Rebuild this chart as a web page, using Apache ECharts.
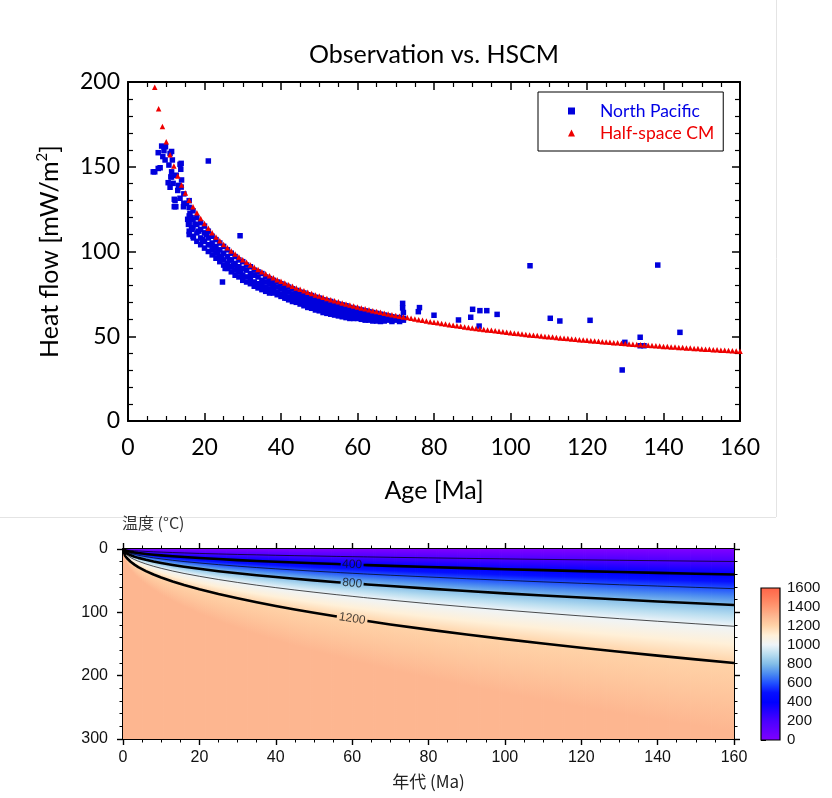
<!DOCTYPE html>
<html><head><meta charset="utf-8">
<script src="https://cdn.jsdelivr.net/npm/echarts@6.0.0/dist/echarts.min.js"></script>
<style>html,body{margin:0;padding:0;background:#fff}#c{width:832px;height:798px}</style>
</head><body><div id="c"></div>
<script>
// ---------------- DATA ----------------
// Half-space cooling model: one sample per Ma, starting at 7 Ma
const modelStartAge = 7;
const modelHeatFlow = [
196.9,184.2,173.7,164.8,157.1,150.4,144.5,139.2,134.5,130.3,
126.4,122.8,119.5,116.5,113.7,111.1,108.6,106.3,104.2,102.2,
100.3,98.5,96.7,95.1,93.6,92.1,90.7,89.4,88.1,86.8,
85.7,84.5,83.4,82.4,81.4,80.4,79.5,78.5,77.7,76.8,
76.0,75.2,74.4,73.7,73.0,72.2,71.6,70.9,70.3,69.6,
69.0,68.4,67.8,67.3,66.7,66.2,65.6,65.1,64.6,64.1,
63.6,63.2,62.7,62.3,61.8,61.4,61.0,60.6,60.2,59.8,
59.4,59.0,58.6,58.2,57.9,57.5,57.2,56.8,56.5,56.2,
55.9,55.5,55.2,54.9,54.6,54.3,54.0,53.7,53.5,53.2,
52.9,52.6,52.4,52.1,51.8,51.6,51.3,51.1,50.8,50.6,
50.4,50.1,49.9,49.7,49.5,49.2,49.0,48.8,48.6,48.4,
48.2,48.0,47.8,47.6,47.4,47.2,47.0,46.8,46.6,46.4,
46.2,46.1,45.9,45.7,45.5,45.3,45.2,45.0,44.8,44.7,
44.5,44.4,44.2,44.0,43.9,43.7,43.6,43.4,43.3,43.1,
43.0,42.8,42.7,42.5,42.4,42.3,42.1,42.0,41.8,41.7,
41.6,41.4,41.3,41.2];

// North Pacific observations [age Ma, heat flow mW/m2]
const northPacific = [
[6.6,147],[7.0,147],[7.9,149],[8.4,149.4],[7.9,158.3],[8.8,162.2],[9.4,159.5],[9.8,161.8],[9.1,156],[9.7,154],
[11.0,157.9],[11.4,159],[11.6,154],[10.7,151],[11.4,147],[11.4,144],[11.2,144],[10.5,140.6],[11.8,140.2],[11.0,137.9],
[13.6,151.4],[13.9,152],[13.8,148.5],[14.0,142.2],[13.9,138],[12.6,145],[13.2,139],[12.1,130.8],[13.6,131.4],[12.3,130],
[12.1,126.4],[12.5,126.4],[14.5,126.4],[14.6,128.4],[15.3,128.4],[16.0,130],[14.6,134],[13.0,136],[16.2,122.5],[15.6,119],
[15.8,116],[16.0,110],[16.6,113],[17.1,108],[21.0,153.4],
[16,126],[16,121],[16,117],[16,112],
[17,124],[17,119],[17,114],[17,109],
[18,120],[18,116],[18,111],[18,106],
[19,117],[19,113],[19,108],[19,104],
[20,115],[20,111],[20,106],[20,102],
[21,112],[21,108],[21,104],[21,100],
[22,109],[22,105],[22,101],[22,98],
[23,107],[23,103],[23,99],[23,96],
[24,105],[24,101],[24,97],[24,94],
[25,103],[25,99],[25,95],[25,92],
[26,101],[26,97],[26,93],[26,90],
[16.5,120],[17.5,116],[18.5,112],[19.5,107],[20.5,110],[21.5,104],[22.5,102],[23.5,100],[24.5,97],[26.5,95],[27.5,92],[28.5,90],[29.5,88],
[24.7,82],[25.4,90],[29.3,109.3],
[27,99],[27,95],[27,91],[27,88],
[28,97],[28,93],[28,89],[28,86],
[29,95],[29,91],[29,88],[29,85],
[30,94],[30,90],[30,86],[30,83],
[31,92],[31,89],[31,85],[31,82],
[32,91],[32,87],[32,84],[32,81],
[33,89],[33,86],[33,82],[33,79.5],
[34,88],[34,85],[34,81],[34,78.5],
[35,87],[35,83],[35,80],[35,77.5],
[36,85],[36,82],[36,79],[36,76.5],
[37,84],[37,81],[37,78],[37,75.5],
[38,83],[38,80],[38,77],[38,75.5],
[39,82],[39,79],[39,76],[39,74.5],
[40,81],[40,78],[40,75],[40,73.5],
[41,80],[41,77],[41,74],[41,72.5],
[42,79],[42,76],[42,73],[42,71.5],
[43,78],[43,75],[43,72.5],[43,70.5],
[44,77],[44,74.5],[44,72],[44,70],
[45,76],[45,73.5],[45,71],[45,69],
[46,75.5],[46,73],[46,70.5],[46,68],
[47,74.5],[47,72],[47,69.5],[47,67],
[48,74],[48,71],[48,68.5],[48,66.5],
[49,73],[49,70.5],[49,68],[49,65.5],
[50,72.5],[50,70],[50,67.5],[50,65],
[51,71.5],[51,69],[51,67],[51,64],
[52,71],[52,68.5],[52,66],[52,63.5],
[53,70.5],[53,68],[53,65.5],[53,63],
[54,69.5],[54,67],[54,65],[54,62.5],
[55,69],[55,66.5],[55,64.5],[55,62],
[56,68.5],[56,66],[56,64],[56,61.5],
[57,68],[57,65.5],[57,63.5],[57,61],
[58,67],[58,65],[58,63],[58,60.5],
[59,66.5],[59,64.5],[59,62.5],[59,60.5],
[60,66],[60,64],[60,62],[60,60.5],
[61,65.5],[61,63.5],[61,61.5],[61,60],
[62,65],[62,63],[62,61],[62,59.5],
[63,64.5],[63,62.5],[63,61],[63,59.5],
[64,64],[64,62],[64,60.5],[64,59],
[65,63.5],[65,62],[65,60.5],[65,59],
[66,63],[66,61.5],[66,60],[66,58.7],
[67,62.5],[67,61],[67,60],[67,59],
[68,62],[68,61],[68,59.5],
[69,61.5],[69,60.5],[69,59.5],[69,58.7],
[70,61],[70,60],[70,59.5],
[71,61],[71,60],[71,59.5],[71,58.7],
[72,60.5],[72,59.5],
[35.4,78.3],[41.5,72.4],[48.4,66.5],[52.8,64.5],
[71.8,69.4],[71.8,66.7],[72.0,64],[75.9,64.5],[76.2,66.9],[80.0,62.4],[86.4,59.6],[89.6,61.2],[90.1,65.9],
[92.0,65.1],[93.8,65.1],[91.8,56],[96.5,62.9],[105.1,91.6],[110.4,60.6],[112.9,59],[120.8,59.4],
[129.9,46.4],[129.2,30.1],[133.9,49.4],[133.9,44.4],[134.9,44.4],[138.5,92],[144.3,52.3]
];

// Lower panel: isotherm depths (km) read at these ages (Ma)
const isoAges      = [0,0.5,1,2,3,4,6,8,10,13,16,20,25,30,35,40,45,50,56,57,60,63,64,70,80,90,100,110,120,130,140,150,160];
const isoDepth200  = [0,1.1,1.6,2.2,2.7,3.1,3.8,4.4,4.9,5.6,6.2,7.0,7.8,8.6,9.2,9.9,10.5,11.0,11.7,11.8,12.1,12.4,12.5,13.1,14.0,14.8,15.6,16.4,17.1,17.8,18.5,19.1,19.7];
const isoDepth400  = [0,2.3,3.2,4.5,5.5,6.4,7.8,9.0,10.1,11.5,12.7,14.2,15.9,17.5,18.9,20.2,21.4,22.5,23.8,24.1,24.7,25.3,25.5,26.7,28.5,30.2,31.9,33.4,34.9,36.3,37.7,39.0,40.3];
const isoDepth600  = [0,3.5,4.9,7.0,8.6,9.9,12.1,14.0,15.6,17.8,19.8,22.1,24.7,27.1,29.3,31.3,33.2,35.0,37.0,37.4,38.3,39.3,39.6,41.4,44.2,46.9,49.5,51.9,54.2,56.4,58.5,60.6,62.6];
const isoDepth800  = [0,4.9,7.0,9.9,12.1,14.0,17.1,19.8,22.1,25.2,28.0,31.3,35.0,38.3,41.4,44.2,46.9,49.5,52.4,52.8,54.2,55.5,56.0,58.5,62.6,66.4,70.0,73.4,76.6,79.8,82.8,85.7,88.5];
const isoDepth1000 = [0,6.8,9.6,13.6,16.7,19.3,23.6,27.3,30.5,34.8,38.6,43.1,48.2,52.8,57.1,61.0,64.7,68.2,72.2,72.8,74.7,76.6,77.2,80.7,86.3,91.5,96.5,101.2,105.7,110.0,114.1,118.1,122.0];
const isoDepth1200 = [0,10.1,14.2,20.1,24.7,28.5,34.9,40.3,45.0,51.3,56.9,63.6,71.2,77.9,84.2,90.0,95.5,100.6,106.5,107.4,110.2,112.9,113.8,119.1,127.3,135.0,142.3,149.2,155.9,162.3,168.4,174.3,180.0];
const isoDepth1300 = [0,16.1,22.8,32.2,39.5,45.6,55.9,64.5,72.1,82.2,91.2,102.0,114.0,124.9,134.9,144.2,153.0,161.2,170.6,172.1,176.6,181.0,182.4,190.8,203.9,216.3,228.0,239.1,249.8,260.0,269.8,279.2,288.4];
const isoLevels    = [200,400,600,800,1000,1200,1300];
const contourLevels = [200,400,600,800,1000,1200];       // drawn contour lines
const labelledLevels = [400,800,1200];                    // thick, annotated
const labelGaps = {400:[57,63], 800:[57,63], 1200:[56,64]};
const contourLabelAge = 60;

// Colour scale (°C)
const cptTemps  = [0,200,400,500,600,700,800,900,1000,1100,1200,1300,1400,1500,1600];
const cptColors = ['#8000ff','#4c00ff','#0000ff','#0610ff','#2050ff','#4c8cf0','#82bde8','#b8ddf0','#eef4f8','#fff0d8','#ffd3a8','#fdb690','#ff9872','#ff7c5a','#ff6347'];
const colorbarTicks = [0,200,400,600,800,1000,1200,1400,1600];

// ---------------- HELPERS ----------------
const isoTable = [isoDepth200, isoDepth400, isoDepth600, isoDepth800, isoDepth1000, isoDepth1200, isoDepth1300];
function hex2rgb(h){return [parseInt(h.substr(1,2),16),parseInt(h.substr(3,2),16),parseInt(h.substr(5,2),16)];}
const cptRgb = cptColors.map(hex2rgb);
function palette(T){
  if (T <= cptTemps[0]) return cptColors[0];
  for (let i=0;i<cptTemps.length-1;i++){
    if (T <= cptTemps[i+1]){
      const f=(T-cptTemps[i])/(cptTemps[i+1]-cptTemps[i]);
      const a=cptRgb[i], b=cptRgb[i+1];
      return 'rgb('+a.map((v,k)=>Math.round(v+(b[k]-v)*f)).join(',')+')';
    }
  }
  return cptColors[cptColors.length-1];
}
function depthsAt(age){
  let j=0; while (j<isoAges.length-2 && age>isoAges[j+1]) j++;
  const f=(age-isoAges[j])/(isoAges[j+1]-isoAges[j]);
  return isoTable.map(r=>r[j]+(r[j+1]-r[j])*f);
}
const maxDepth = 300;
const fieldColumns = [];
for (let a=0;a<160;a+=0.5) fieldColumns.push([a, a+0.5]);

const gmtFont = '"Liberation Sans", Arial, Helvetica, sans-serif';
const cjkFont = '"Noto Sans CJK JP", "Liberation Sans", sans-serif';

function contourSeries(level){
  const row = isoTable[isoLevels.indexOf(level)];
  const gap = labelGaps[level];
  const data = [];
  let gapPushed=false;
  isoAges.forEach((a,i)=>{
    if (gap && a>gap[0] && a<gap[1]) { if(!gapPushed){data.push([a,'-']);gapPushed=true;} return; }
    data.push([a,row[i]]);
  });
  const thick = labelledLevels.indexOf(level)>=0;
  return {type:'line', xAxisIndex:2, yAxisIndex:2, data, symbol:'none', smooth:false,
    connectNulls:false, clip:true, silent:true, z:5,
    lineStyle:{color:'#000', width: thick?2.6:0.7, join:'round'}};
}

// ---------------- CHART ----------------
const chart = echarts.init(document.getElementById('c'), null, {renderer:'canvas'});

function frameAxis(o){ return Object.assign({type:'value', splitLine:{show:false}, axisLine:{show:true,onZero:false,lineStyle:{color:'#000',width:2}}}, o); }

const topTick = {show:true, inside:true, length:8, lineStyle:{color:'#000',width:1.5}};
const topMinorX = {show:true, splitNumber:4, length:5, lineStyle:{color:'#000',width:1.2}};
const topMinorY = {show:true, splitNumber:5, length:5, lineStyle:{color:'#000',width:1.2}};
const botTick = {show:true, inside:false, length:6, lineStyle:{color:'#000',width:1.4}};
const botMinorX = {show:true, splitNumber:4, length:3.5, lineStyle:{color:'#000',width:1}};
const botMinorY = {show:true, splitNumber:5, length:3.5, lineStyle:{color:'#000',width:1}};

const option = {
  animation:false,
  backgroundColor:'#fff',
  title:[
    {text:'Observation vs. HSCM', left:434, top:42, textAlign:'center', padding:0,
     textStyle:{fontFamily:'Lato', fontSize:25, fontWeight:'normal', color:'#000'}},
    {text:'温度 (°C)', left:122, top:515, padding:0,
     textStyle:{fontFamily:cjkFont, fontSize:16, fontWeight:'normal', color:'#333'}}
  ],
  legend:{left:538, top:92, orient:'vertical', padding:[10,9,9,30], itemGap:4, itemWidth:7, itemHeight:7,
    borderColor:'#000', borderWidth:1, backgroundColor:'#fff',
    textStyle:{fontFamily:'Lato', fontSize:17.5, padding:[0,0,0,20]},
    data:[{name:'North Pacific', textStyle:{color:'#0000e6'}}, {name:'Half-space CM', textStyle:{color:'#ee0000'}}]},
  graphic:[
    {type:'line', shape:{x1:776.5,y1:0,x2:776.5,y2:517}, style:{stroke:'#e4e4e4', lineWidth:1}, silent:true},
    {type:'line', shape:{x1:0,y1:517.5,x2:776,y2:517.5}, style:{stroke:'#e4e4e4', lineWidth:1}, silent:true}
  ],
  grid:[
    {left:128, top:82, width:612, height:339, outerBoundsMode:'none'},
    {left:123, top:549, width:611, height:190, outerBoundsMode:'none'},
    {left:761, top:588, width:19, height:152, outerBoundsMode:'none'}
  ],
  xAxis:[
    frameAxis({gridIndex:0, min:0, max:160, interval:20, position:'bottom', axisTick:topTick, minorTick:topMinorX,
      axisLabel:{fontFamily:'Lato', fontSize:23, color:'#000', margin:15},
      name:'Age [Ma]', nameLocation:'middle', nameGap:57, nameTextStyle:{fontFamily:'Lato', fontSize:25, color:'#000'}}),
    frameAxis({gridIndex:0, min:0, max:160, interval:20, position:'top', axisTick:topTick, minorTick:topMinorX, axisLabel:{show:false}}),
    frameAxis({gridIndex:1, min:0, max:160, interval:20, position:'bottom', axisTick:botTick, minorTick:botMinorX,
      axisLabel:{fontFamily:gmtFont, fontSize:16, color:'#111', margin:11},
      name:'年代 (Ma)', nameLocation:'middle', nameGap:34, nameTextStyle:{fontFamily:cjkFont, fontSize:17, color:'#222'}}),
    frameAxis({gridIndex:1, min:0, max:160, interval:20, position:'top', axisTick:botTick, minorTick:botMinorX, axisLabel:{show:false}}),
    {type:'value', gridIndex:2, min:0, max:1, show:false}
  ],
  yAxis:[
    frameAxis({gridIndex:0, min:0, max:200, interval:50, position:'left', axisTick:topTick, minorTick:topMinorY,
      axisLabel:{fontFamily:'Lato', fontSize:23, color:'#000', margin:8},
      name:'{a|Heat flow [mW/m}{s|2}{a|]}', nameLocation:'middle', nameGap:64,
      nameTextStyle:{rich:{a:{fontFamily:'Lato', fontSize:25, color:'#000'}, s:{fontFamily:'Lato', fontSize:15, color:'#000', padding:[0,0,14,0]}}}}),
    frameAxis({gridIndex:0, min:0, max:200, interval:50, position:'right', axisTick:topTick, minorTick:topMinorY, axisLabel:{show:false}}),
    frameAxis({gridIndex:1, min:0, max:300, interval:100, inverse:true, position:'left', axisTick:botTick, minorTick:botMinorY,
      axisLabel:{fontFamily:gmtFont, fontSize:16, color:'#111', margin:15}}),
    frameAxis({gridIndex:1, min:0, max:300, interval:100, inverse:true, position:'right', axisTick:botTick, minorTick:botMinorY, axisLabel:{show:false}}),
    {type:'value', gridIndex:2, min:0, max:1600, interval:200, position:'right', splitLine:{show:false},
      axisLine:{show:false}, axisTick:{show:true, inside:false, length:5, lineStyle:{color:'#000', width:1}},
      axisLabel:{fontFamily:gmtFont, fontSize:15, color:'#111', margin:7,
        formatter:v=>colorbarTicks.indexOf(v)>=0?String(v):''}}
  ],
  series:[
    {name:'North Pacific', type:'scatter', xAxisIndex:0, yAxisIndex:0, data:northPacific,
      symbol:'rect', symbolSize:5.5, itemStyle:{color:'#0000dc', opacity:1}, z:3},
    {name:'Half-space CM', type:'scatter', xAxisIndex:0, yAxisIndex:0,
      data:modelHeatFlow.map((q,i)=>[modelStartAge+i,q]),
      symbol:'triangle', symbolSize:5.5, itemStyle:{color:'#ee0000', opacity:1}, z:4},
    {type:'custom', xAxisIndex:2, yAxisIndex:2, data:fieldColumns, clip:true, silent:true, z:2,
      renderItem:function(params, api){
        const a0=api.value(0), a1=api.value(1);
        const p0=api.coord([a0,0]), p1=api.coord([a1,maxDepth]);
        const d=depthsAt((a0+a1)/2);
        const stops=[{offset:0,color:palette(0)}];
        let pT=0, pZ=0;
        for (let i=0;i<isoLevels.length;i++){
          const T=isoLevels[i], z=Math.max(d[i],pZ);
          stops.push({offset:Math.min(1,(pZ+z)/2/maxDepth), color:palette((pT+T)/2)});
          stops.push({offset:Math.min(1,z/maxDepth), color:palette(T)});
          pT=T; pZ=z;
        }
        stops.push({offset:1,color:palette(1300)});
        return {type:'rect', shape:{x:p0[0], y:p0[1], width:p1[0]-p0[0]+0.8, height:p1[1]-p0[1]},
          style:{fill:new echarts.graphic.LinearGradient(0,0,0,1,stops)}};
      }},
  ].concat(contourLevels.map(contourSeries)).concat([
    {type:'scatter', xAxisIndex:2, yAxisIndex:2, symbolSize:0, silent:true, z:6,
      data: labelledLevels.map(L=>{
        const d=depthsAt(contourLabelAge)[isoLevels.indexOf(L)];
        const rot = L===400?-2:(L===800?-4.5:-8.5);
        return {name:String(L), value:[contourLabelAge,d], label:{rotate:rot}};
      }),
      label:{show:true, position:'inside', formatter:'{b}', fontFamily:gmtFont, fontSize:12, color:'#111'}},
    {type:'custom', xAxisIndex:4, yAxisIndex:4, data:[[0,1]], silent:true, z:3,
      renderItem:function(params, api){
        const pTop=api.coord([0,1600]), pBot=api.coord([1,0]);
        const stops=cptTemps.map((t,i)=>({offset:1-t/1600, color:cptColors[i]})).reverse();
        return {type:'rect', shape:{x:pTop[0], y:pTop[1], width:pBot[0]-pTop[0], height:pBot[1]-pTop[1]},
          style:{fill:new echarts.graphic.LinearGradient(0,0,0,1,stops), stroke:'#000', lineWidth:1.2}};
      }}
  ])
};
chart.setOption(option);
</script>
</body></html>
